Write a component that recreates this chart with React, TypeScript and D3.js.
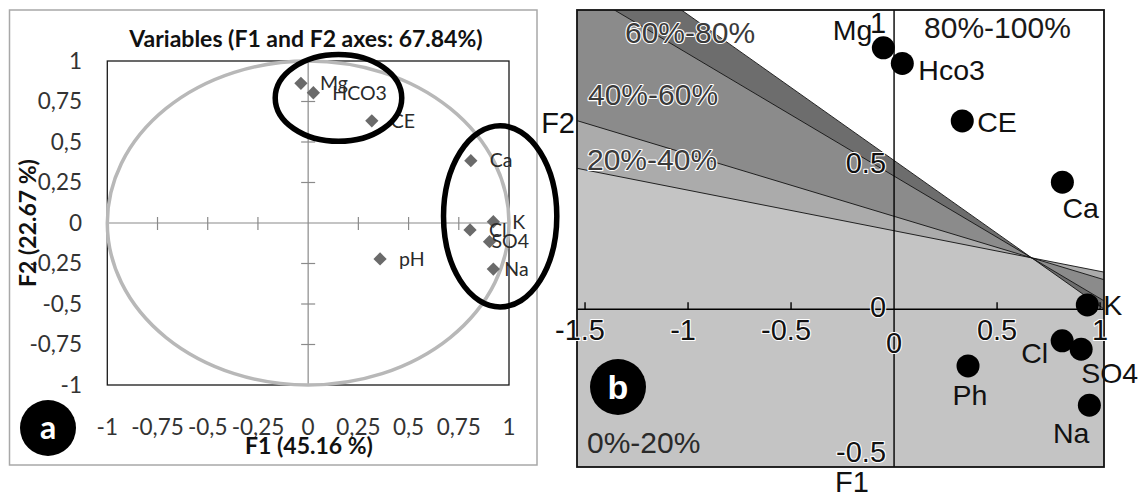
import React from "react";
import * as d3 from "d3";

// ---------- Panel a : correlation circle ----------
const varsA = ["Mg", "HCO3", "CE", "Ca", "K", "Cl", "SO4", "pH", "Na"];
const f1A = [-0.036, 0.026, 0.317, 0.81, 0.922, 0.806, 0.903, 0.358, 0.922];
const f2A = [0.862, 0.804, 0.631, 0.385, 0.008, -0.043, -0.115, -0.222, -0.284];
const ticksA = [-1, -0.75, -0.5, -0.25, 0, 0.25, 0.5, 0.75, 1];
const titleA = "Variables (F1 and F2 axes: 67.84%)";
const xTitleA = "F1 (45.16 %)";
const yTitleA = "F2 (22.67 %)";

// ---------- Panel b : variance bands ----------
const varsB = ["Mg", "Hco3", "CE", "Ca", "K", "Cl", "SO4", "Ph", "Na"];
const f1B = [-0.052, 0.04, 0.331, 0.817, 0.938, 0.816, 0.908, 0.359, 0.948];
const f2B = [0.905, 0.851, 0.652, 0.44, 0.015, -0.109, -0.138, -0.196, -0.332];
const xTicksB = [-1.5, -1, -0.5, 0, 0.5, 1];
const yTicksB = [-0.5, 0, 0.5, 1];
const bandNames = ["0%-20%", "20%-40%", "40%-60%", "60%-80%", "80%-100%"];
// boundary lines: F2 value at the left edge of the plot, all passing through the pivot
const boundaryF2AtLeft = [0.488, 0.653, 1.113, 1.292];
const pivotF1 = 0.668;
const pivotF2 = 0.178;

const fmtA = d3
  .formatLocale({ decimal: ",", thousands: ".", grouping: [3], currency: ["", ""], minus: "-" })
  .format(".2~f");
const fmtB = d3
  .formatLocale({ decimal: ".", thousands: ",", grouping: [3], currency: ["", ""], minus: "-" })
  .format(".1~f");

// label placement (px offsets from the marker) – styling only
const labelDxA: Record<string, number> = { SO4: 2, Na: 11 };
const labelPlaceB: Record<string, [number, number, string]> = {
  Mg: [-11, -8, "end"],
  Hco3: [16, 17, "start"],
  CE: [15, 11, "start"],
  Ca: [0, 36, "start"],
  K: [16, 10, "start"],
  Cl: [-14, 22, "end"],
  SO4: [0, 34, "start"],
  Ph: [2, 39, "middle"],
  Na: [0, 38, "end"],
};

const bandColors = ["#c4c4c4", "#ababab", "#8b8b8b", "#6d6d6d", "#ffffff"];

export default function App() {
  const W = 1145;
  const H = 498;

  // panel a scales
  const ax = d3.scaleLinear().domain([-1, 1]).range([107.3, 509]);
  const ay = d3.scaleLinear().domain([-1, 1]).range([385, 61]);
  const diamond = d3.symbol(d3.symbolSquare, 88)()!;
  const fontA = "Lato, 'Open Sans', sans-serif";

  // panel b scales
  const bx = d3.scaleLinear().domain([-1.539, 1.019]).range([577, 1104]);
  const by = d3.scaleLinear().domain([-0.546, 1.036]).range([467, 10]);
  const [bx0, bx1] = bx.domain();
  const [by0, by1] = by.domain();
  const fontB = "'Liberation Sans', Arial, sans-serif";

  const lineAt = (i: number, f1: number) => {
    const slope = (pivotF2 - boundaryF2AtLeft[i]) / (pivotF1 - bx0);
    return pivotF2 + slope * (f1 - pivotF1);
  };
  const poly = (pts: [number, number][]) =>
    pts.map(([a, b]) => `${bx(a)},${by(b)}`).join(" ");

  const bands = [0, 1, 2].map((i) => ({
    color: bandColors[i + 1],
    points: poly([
      [bx0, lineAt(i, bx0)],
      [bx1, lineAt(i, bx1)],
      [bx1, lineAt(i + 1, bx1)],
      [bx0, lineAt(i + 1, bx0)],
    ]),
  }));
  const whitePoly = poly([
    [bx0, by1 + 0.5],
    [bx1, by1 + 0.5],
    [bx1, lineAt(0, bx1)],
    [pivotF1, pivotF2],
    [bx0, lineAt(3, bx0)],
  ]);

  const halo = { paintOrder: "stroke" as const, stroke: "#ffffff", strokeWidth: 2.2, strokeLinejoin: "round" as const };

  return (
    <svg
      width={W}
      height={H}
      style={{ position: "absolute", left: 0, top: 0, background: "#fff" }}
    >
      {/* ================= Panel a ================= */}
      <rect x={9.5} y={10} width={527.5} height={455} fill="#fff" stroke="#a8a8a8" strokeWidth={1.5} />
      <text x={306} y={47} textAnchor="middle" fontFamily={fontA} fontWeight="bold" fontSize={23} fill="#111">
        {titleA}
      </text>
      <rect
        x={ax(-1)}
        y={ay(1)}
        width={ax(1) - ax(-1)}
        height={ay(-1) - ay(1)}
        fill="none"
        stroke="#1a1a1a"
        strokeWidth={1.3}
      />
      {/* axes through origin */}
      <line x1={ax(-1)} x2={ax(1)} y1={ay(0)} y2={ay(0)} stroke="#8a8a8a" strokeWidth={1.2} />
      <line x1={ax(0)} x2={ax(0)} y1={ay(1)} y2={ay(-1)} stroke="#8a8a8a" strokeWidth={1.2} />
      {ticksA.map((t) => (
        <g key={"ta" + t}>
          {t !== 0 && (
            <line x1={ax(t)} x2={ax(t)} y1={ay(0) - 6} y2={ay(0) + 7} stroke="#8a8a8a" strokeWidth={1.2} />
          )}
          {t !== 0 && (
            <line x1={ax(0) - 7} x2={ax(0) + 7} y1={ay(t)} y2={ay(t)} stroke="#8a8a8a" strokeWidth={1.2} />
          )}
        </g>
      ))}
      {/* correlation circle */}
      <ellipse
        cx={ax(0)}
        cy={ay(0)}
        rx={ax(1) - ax(0)}
        ry={ay(0) - ay(1)}
        fill="none"
        stroke="#b8b8b8"
        strokeWidth={3.5}
      />
      {/* points */}
      {varsA.map((v, i) => (
        <g key={"pa" + v}>
          <path d={diamond} transform={`translate(${ax(f1A[i])},${ay(f2A[i])}) rotate(45)`} fill="#6a6a6a" />
          <text
            x={ax(f1A[i]) + (labelDxA[v] ?? 19)}
            y={ay(f2A[i])}
            dy="0.35em"
            fontFamily={fontA}
            fontSize={19.5}
            fill="#2a2a2a"
          >
            {v}
          </text>
        </g>
      ))}
      {/* highlight ellipses */}
      <ellipse
        cx={ax(0.151)}
        cy={ay(0.772)}
        rx={ax(0.315) - ax(0)}
        ry={ay(0) - ay(0.268)}
        fill="none"
        stroke="#000"
        strokeWidth={5.5}
      />
      <ellipse
        cx={ax(0.956)}
        cy={ay(0.041)}
        rx={ax(0.282) - ax(0)}
        ry={ay(0) - ay(0.559)}
        fill="none"
        stroke="#000"
        strokeWidth={5.5}
      />
      {/* tick labels */}
      {ticksA.map((t) => (
        <text key={"yl" + t} x={82} y={ay(t) + 7.5} textAnchor="end" fontFamily={fontA} fontSize={22.5} fill="#333">
          {fmtA(t)}
        </text>
      ))}
      {ticksA.map((t) => (
        <text key={"xl" + t} x={ax(t)} y={435} textAnchor="middle" fontFamily={fontA} fontSize={22.5} fill="#333">
          {fmtA(t)}
        </text>
      ))}
      <text x={309} y={454} textAnchor="middle" fontFamily={fontA} fontWeight="bold" fontSize={23} fill="#111">
        {xTitleA}
      </text>
      <text
        transform={`translate(36,${ay(0)}) rotate(-90)`}
        textAnchor="middle"
        fontFamily={fontA}
        fontWeight="bold"
        fontSize={23}
        fill="#111"
      >
        {yTitleA}
      </text>
      <circle cx={48} cy={428} r={28} fill="#000" />
      <text x={48} y={428} dy="0.33em" textAnchor="middle" fontFamily={fontA} fontWeight="bold" fontSize={32} fill="#fff">
        a
      </text>

      {/* ================= Panel b ================= */}
      <defs>
        <clipPath id="clipB">
          <rect x={bx(bx0)} y={by(by1)} width={bx(bx1) - bx(bx0)} height={by(by0) - by(by1)} />
        </clipPath>
      </defs>
      <g clipPath="url(#clipB)">
        <rect
          x={bx(bx0)}
          y={by(by1)}
          width={bx(bx1) - bx(bx0)}
          height={by(by0) - by(by1)}
          fill={bandColors[0]}
        />
        {bands.map((b, i) => (
          <polygon key={"band" + i} points={b.points} fill={b.color} />
        ))}
        <polygon points={whitePoly} fill={bandColors[4]} />
        {boundaryF2AtLeft.map((_, i) => (
          <line
            key={"bl" + i}
            x1={bx(bx0)}
            y1={by(lineAt(i, bx0))}
            x2={bx(bx1)}
            y2={by(lineAt(i, bx1))}
            stroke="#111"
            strokeWidth={0.9}
          />
        ))}
      </g>
      {/* axes */}
      <line x1={bx(bx0)} x2={bx(bx1)} y1={by(0)} y2={by(0)} stroke="#000" strokeWidth={1.6} />
      <line x1={bx(0)} x2={bx(0)} y1={by(by1)} y2={by(by0)} stroke="#000" strokeWidth={1.4} />
      {xTicksB
        .filter((t) => t !== 0)
        .map((t) => (
          <line key={"xtb" + t} x1={bx(t)} x2={bx(t)} y1={by(0) - 7} y2={by(0)} stroke="#000" strokeWidth={1.4} />
        ))}
      <rect
        x={bx(bx0)}
        y={by(by1)}
        width={bx(bx1) - bx(bx0)}
        height={by(by0) - by(by1)}
        fill="none"
        stroke="#111"
        strokeWidth={1.8}
      />
      {/* band labels */}
      <text x={bx(bx0) + 48} y={43} fontFamily={fontB} fontSize={30} fill="#3a3a3a" style={halo}>
        {bandNames[3]}
      </text>
      <text x={bx(bx0) + 11} y={105} fontFamily={fontB} fontSize={30} fill="#3a3a3a" style={halo}>
        {bandNames[2]}
      </text>
      <text x={bx(bx0) + 10} y={170} fontFamily={fontB} fontSize={30} fill="#3a3a3a" style={halo}>
        {bandNames[1]}
      </text>
      <text x={bx(bx0) + 10} y={453} fontFamily={fontB} fontSize={30} fill="#2a2a2a">
        {bandNames[0]}
      </text>
      <text x={bx(0) + 30} y={38} fontFamily={fontB} fontSize={30} fill="#1a1a1a">
        {bandNames[4]}
      </text>
      {/* tick labels */}
      {xTicksB.map((t) => (
        <text
          key={"xlb" + t}
          x={bx(t) + (t < 0 ? -5 : 0)}
          y={t === 0 ? by(0) + 44 : by(0) + 31}
          textAnchor="middle"
          fontFamily={fontB}
          fontSize={29}
          fill="#111"
          style={halo}
        >
          {fmtB(t)}
        </text>
      ))}
      {yTicksB.map((t) => (
        <text
          key={"ylb" + t}
          x={bx(0) - 8}
          y={Math.max(by(t) + 8, by(by1) + 23)}
          textAnchor="end"
          fontFamily={fontB}
          fontSize={29}
          fill="#111"
          style={halo}
        >
          {fmtB(t)}
        </text>
      ))}
      {/* points */}
      {varsB.map((v, i) => {
        const [dx, dy, anchor] = labelPlaceB[v];
        return (
          <g key={"pb" + v}>
            <circle cx={bx(f1B[i])} cy={by(f2B[i])} r={11.5} fill="#000" />
            <text
              x={bx(f1B[i]) + dx}
              y={by(f2B[i]) + dy}
              textAnchor={anchor as any}
              fontFamily={fontB}
              fontSize={28.5}
              fill="#111"
            >
              {v}
            </text>
          </g>
        );
      })}
      <text x={575} y={133} textAnchor="end" fontFamily={fontB} fontSize={29} fill="#111">
        F2
      </text>
      <text x={852} y={492} textAnchor="middle" fontFamily={fontB} fontSize={29} fill="#111">
        F1
      </text>
      <circle cx={618} cy={387} r={28} fill="#000" />
      <text x={618} y={387} dy="0.35em" textAnchor="middle" fontFamily={fontB} fontWeight="bold" fontSize={34} fill="#fff">
        b
      </text>
    </svg>
  );
}
